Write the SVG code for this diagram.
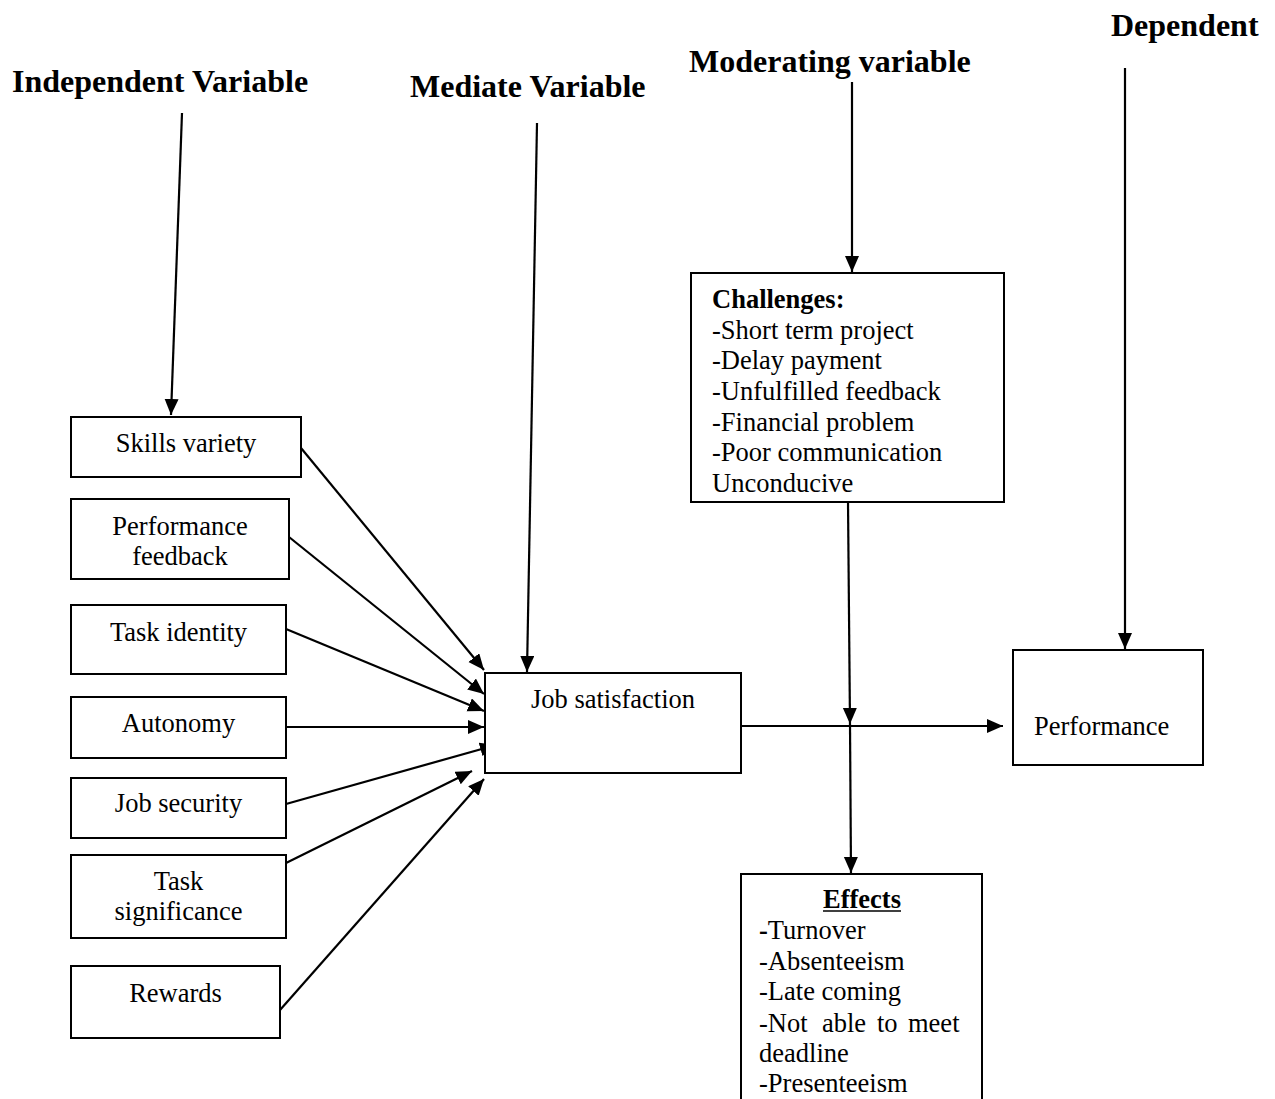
<svg xmlns="http://www.w3.org/2000/svg" width="1275" height="1099" viewBox="0 0 1275 1099">
<style>
.box{fill:#fff;stroke:#000;stroke-width:2}
.t{font-family:"Liberation Serif","Times New Roman",serif;font-size:26.5px;fill:#000}
.c{text-anchor:middle}
.h{font-family:"Liberation Serif","Times New Roman",serif;font-size:32px;font-weight:bold;fill:#000}
.b{font-weight:bold}
.ln{stroke:#000;stroke-width:2.2;fill:none;marker-end:url(#ah)}
.pl{stroke:#000;stroke-width:1.5;fill:none}
</style>
<defs>
<marker id="ah" markerUnits="userSpaceOnUse" markerWidth="18" markerHeight="16" refX="16" refY="7" orient="auto">
<path d="M0,0 L16,7 L0,14 z" fill="#000"/>
</marker>
</defs>
<rect width="1275" height="1099" fill="#fff"/>
<g id="headings">
<text class="h" x="12" y="92">Independent Variable</text>
<text class="h" x="410" y="97">Mediate Variable</text>
<text class="h" x="689" y="72">Moderating variable</text>
<text class="h" x="1111" y="36">Dependent</text>
</g>
<g id="connectors">
<line class="ln" x1="182" y1="113" x2="171" y2="415"/>
<line class="ln" x1="537" y1="123" x2="527" y2="672"/>
<line class="ln" x1="852" y1="82" x2="852" y2="272"/>
<line class="ln" x1="1125" y1="68" x2="1125" y2="649"/>
<line class="ln" x1="301" y1="448" x2="484" y2="670"/>
<line class="ln" x1="289" y1="537" x2="484" y2="694"/>
<line class="ln" x1="286" y1="629" x2="484" y2="711"/>
<line class="ln" x1="286" y1="727" x2="484" y2="727"/>
<line class="ln" x1="286" y1="804" x2="496" y2="745"/>
<line class="ln" x1="286" y1="863" x2="472" y2="771"/>
<line class="ln" x1="280" y1="1010" x2="484" y2="779"/>
<line class="ln" x1="741" y1="726" x2="1003" y2="726"/>
<line class="ln" x1="848" y1="502" x2="850" y2="724"/>
<line class="ln" x1="850" y1="724" x2="851" y2="873"/>
</g>
<g id="skills-variety">
<rect class="box" x="71" y="417" width="230" height="60"/>
<text class="t c" x="186" y="452">Skills variety</text>
</g>
<g id="performance-feedback">
<rect class="box" x="71" y="499" width="218" height="80"/>
<text class="t c" x="180" y="535">Performance</text>
<text class="t c" x="180" y="565">feedback</text>
</g>
<g id="task-identity">
<rect class="box" x="71" y="605" width="215" height="69"/>
<text class="t c" x="178.5" y="641">Task identity</text>
</g>
<g id="autonomy">
<rect class="box" x="71" y="697" width="215" height="61"/>
<text class="t c" x="178.5" y="732">Autonomy</text>
</g>
<g id="job-security">
<rect class="box" x="71" y="778" width="215" height="60"/>
<text class="t c" x="178.5" y="812">Job security</text>
</g>
<g id="task-significance">
<rect class="box" x="71" y="855" width="215" height="83"/>
<text class="t c" x="178.5" y="890">Task</text>
<text class="t c" x="178.5" y="920">significance</text>
</g>
<g id="rewards">
<rect class="box" x="71" y="966" width="209" height="72"/>
<text class="t c" x="175.5" y="1002">Rewards</text>
</g>
<g id="job-satisfaction">
<rect class="box" x="485" y="673" width="256" height="100"/>
<text class="t c" x="613" y="708">Job satisfaction</text>
</g>
<g id="performance">
<rect class="box" x="1013" y="650" width="190" height="115"/>
<text class="t" x="1034" y="735">Performance</text>
</g>
<g id="challenges">
<rect class="box" x="691" y="273" width="313" height="229"/>
<text class="t b" x="712" y="308">Challenges:</text>
<text class="t" x="712" y="339">-Short term project</text>
<text class="t" x="712" y="369">-Delay payment</text>
<text class="t" x="712" y="400">-Unfulfilled feedback</text>
<text class="t" x="712" y="431">-Financial problem</text>
<text class="t" x="712" y="461">-Poor communication</text>
<text class="t" x="712" y="492">Unconducive</text>
</g>
<g id="effects">
<rect class="box" x="741" y="874" width="241" height="240"/>
<text class="t b c" x="862" y="908">Effects</text>
<line class="pl" x1="823" y1="911" x2="901" y2="911"/>
<text class="t" x="759" y="939"><tspan class="b">-</tspan>Turnover</text>
<text class="t" x="759" y="970">-Absenteeism</text>
<text class="t" x="759" y="1000">-Late coming</text>
<text class="t" y="1032"><tspan x="759">-Not</tspan><tspan x="822">able</tspan><tspan x="877">to</tspan><tspan x="908">meet</tspan></text>
<text class="t" x="759" y="1062">deadline</text>
<text class="t" x="759" y="1092">-Presenteeism</text>
</g>
</svg>
